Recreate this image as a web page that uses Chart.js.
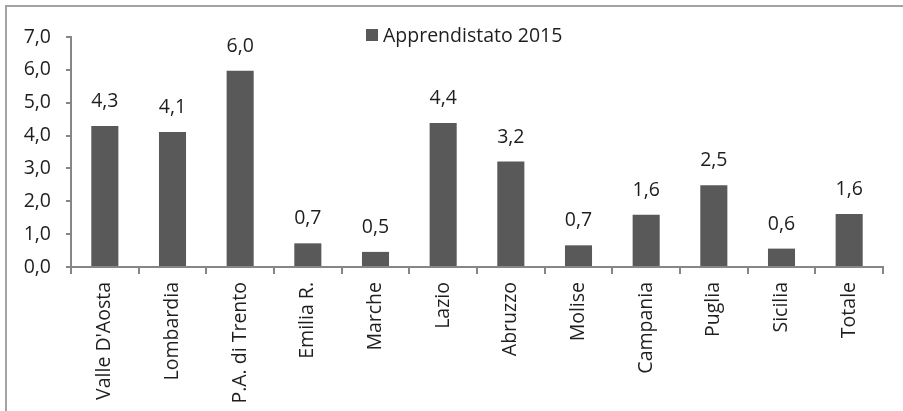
<!DOCTYPE html>
<html>
<head>
<meta charset="utf-8">
<script src="https://cdn.jsdelivr.net/npm/chart.js@4/dist/chart.umd.min.js"></script>
<style>
    body { margin: 0; background: #ffffff; overflow: hidden; }
    #frame { position: absolute; left: 5px; top: 5px; width: 1000px; height: 1000px;
             border-top: 2px solid #a3a3a3; border-left: 2px solid #a3a3a3; }
    #chart_appr { position: absolute; left: 0; top: 0; }
</style>
</head>
<body>
<div id="frame"></div>
<canvas id="chart_appr" width="903" height="411"></canvas>
<script>
// data
var regioni = ["Valle D'Aosta", "Lombardia", "P.A. di Trento", "Emilia R.", "Marche", "Lazio",
               "Abruzzo", "Molise", "Campania", "Puglia", "Sicilia", "Totale"];
var apprendistato_2015 = [4.29, 4.11, 5.97, 0.72, 0.46, 4.38, 3.21, 0.66, 1.59, 2.49, 0.56, 1.61];
var serieLabel = "Apprendistato 2015";
var yTicks = [0, 1, 2, 3, 4, 5, 6, 7];

var FONT = '"Open Sans", "DejaVu Sans", sans-serif';
var FONT_SIZE = 19.5;
var BAR_COLOR = "#595959";
var AXIS_COLOR = "#868686";
var TEXT_COLOR = "#1e1e1e";

function fmt(v) { return v.toFixed(1).replace(".", ","); }

// value labels above the bars + the legend (drawn by hand, legend sits inside the plot)
var labelsPlugin = {
    id: "valueLabels",
    afterDatasetsDraw: function (chart) {
        var ctx = chart.ctx;
        var meta = chart.getDatasetMeta(0);
        ctx.save();
        ctx.font = FONT_SIZE + "px " + FONT;
        ctx.fillStyle = TEXT_COLOR;
        ctx.textAlign = "center";
        ctx.textBaseline = "alphabetic";
        meta.data.forEach(function (bar, i) {
            ctx.fillText(fmt(chart.data.datasets[0].data[i]), bar.x, bar.y - 19);
        });
        // legend
        ctx.fillStyle = chart.data.datasets[0].backgroundColor;
        ctx.fillRect(366, 29, 12, 12);
        ctx.fillStyle = TEXT_COLOR;
        ctx.textAlign = "left";
        ctx.fillText(chart.data.datasets[0].label, 383, 42);
        ctx.restore();
    }
};

try {
    new Chart(document.getElementById("chart_appr"), {
        type: "bar",
        data: {
            labels: regioni,
            datasets: [{
                label: serieLabel,
                data: apprendistato_2015,
                backgroundColor: BAR_COLOR,
                borderWidth: 0,
                categoryPercentage: 1.0,
                barPercentage: 0.4
            }]
        },
        options: {
            responsive: false,
            animation: false,
            layout: { padding: { top: 37, right: 20, bottom: 0, left: 0 } },
            plugins: {
                legend: { display: false },
                tooltip: { enabled: false }
            },
            scales: {
                x: {
                    grid: { display: true, drawOnChartArea: false, offset: true,
                            tickLength: 7, color: AXIS_COLOR, lineWidth: 2 },
                    border: { display: true, color: AXIS_COLOR, width: 2 },
                    ticks: {
                        color: TEXT_COLOR, font: { family: FONT, size: FONT_SIZE },
                        minRotation: 90, maxRotation: 90, autoSkip: false, padding: 8
                    },
                    afterFit: function (scale) { scale.height = 144; }
                },
                y: {
                    min: 0, max: 7,
                    grid: { display: true, drawOnChartArea: false,
                            tickLength: 5, color: AXIS_COLOR, lineWidth: 2 },
                    border: { display: true, color: AXIS_COLOR, width: 2 },
                    afterBuildTicks: function (scale) {
                        scale.ticks = yTicks.map(function (v) { return { value: v }; });
                    },
                    ticks: {
                        color: TEXT_COLOR, font: { family: FONT, size: FONT_SIZE }, padding: 15,
                        callback: function (v) { return fmt(v); }
                    },
                    afterFit: function (scale) { scale.width = 71; }
                }
            }
        },
        plugins: [labelsPlugin]
    });
}
catch (e) {
    console.log("chart error: " + e.message);
}
</script>
</body>
</html>
